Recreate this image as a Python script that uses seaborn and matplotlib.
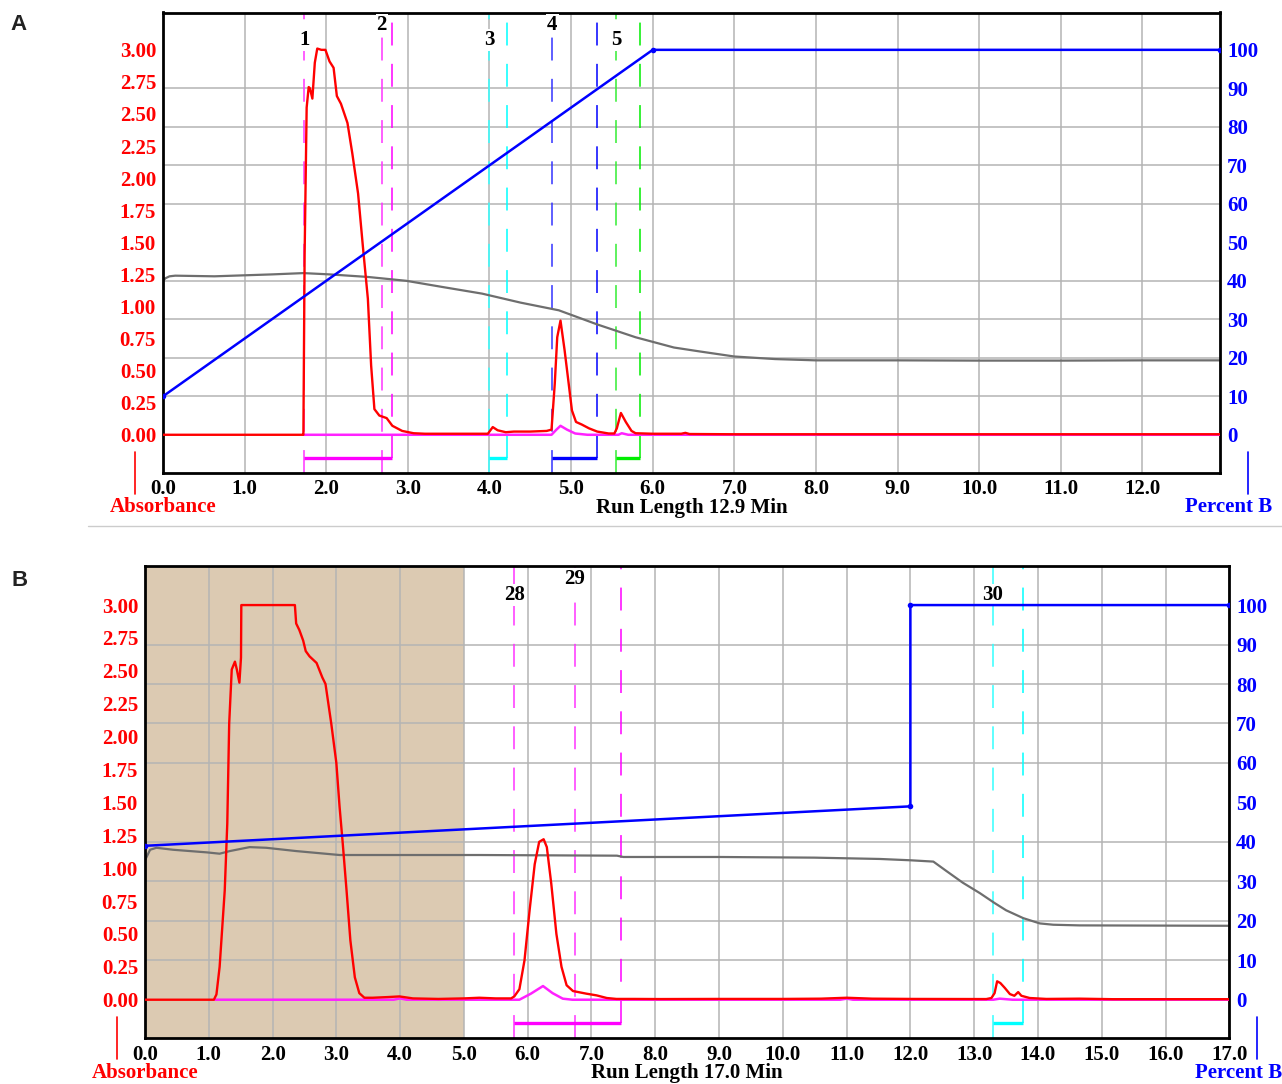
import numpy as np
import pandas as pd
import matplotlib
matplotlib.use("Agg")
import matplotlib.pyplot as plt
import seaborn as sns
from matplotlib.lines import Line2D
from matplotlib.ticker import FixedLocator

# ---------------- data: panel A ----------------
tA_red = [0, 1.70, 1.72, 1.735, 1.76, 1.785, 1.80, 1.83, 1.86, 1.89, 1.94, 1.99, 2.04, 2.09, 2.13,
          2.18, 2.26, 2.32, 2.39, 2.45, 2.51, 2.55, 2.59, 2.65, 2.74, 2.81, 2.93, 3.07, 3.21, 3.6,
          3.98, 4.04, 4.10, 4.20, 4.30, 4.50, 4.70, 4.76, 4.80, 4.83, 4.87, 4.92, 4.97, 5.01, 5.06,
          5.13, 5.22, 5.32, 5.46, 5.53, 5.56, 5.61, 5.67, 5.74, 5.79, 6.0, 6.35, 6.40, 6.45, 7.0, 12.95]
aA_red = [0, 0, 0, 1.40, 2.55, 2.71, 2.70, 2.62, 2.90, 3.01, 3.00, 3.00, 2.91, 2.86, 2.64,
          2.58, 2.43, 2.19, 1.88, 1.46, 1.06, 0.54, 0.20, 0.15, 0.13, 0.07, 0.03, 0.012, 0.008, 0.008,
          0.008, 0.06, 0.035, 0.02, 0.025, 0.025, 0.03, 0.04, 0.40, 0.76, 0.89, 0.66, 0.40, 0.19, 0.10,
          0.08, 0.05, 0.025, 0.01, 0.01, 0.05, 0.17, 0.10, 0.03, 0.012, 0.008, 0.008, 0.015, 0.006, 0.004, 0.004]

tA_mag = [1.72, 4.76, 4.82, 4.87, 4.95, 5.05, 5.20, 5.58, 5.62, 5.70, 12.95]
aA_mag = [0, 0, 0.04, 0.07, 0.04, 0.01, 0, 0, 0.012, 0, 0]

tA_gray = [0, 0.03, 0.08, 0.15, 0.63, 1.34, 1.72, 2.04, 2.51, 2.98, 3.44, 3.91, 4.38, 4.85, 5.32, 5.79,
           6.26, 6.57, 7.0, 7.5, 8.0, 9.0, 10.0, 11.0, 12.0, 12.95]
aA_gray = [1.20, 1.22, 1.235, 1.24, 1.235, 1.25, 1.26, 1.25, 1.23, 1.20, 1.15, 1.10, 1.03, 0.97, 0.86, 0.76,
           0.68, 0.65, 0.61, 0.59, 0.58, 0.58, 0.578, 0.578, 0.58, 0.58]

tA_pctB = [0, 6.0, 12.95]
pA_pctB = [10, 100, 100]

fracA_labels = ["1", "2", "3", "4", "5"]
fracA_pos = [1.73, 2.68, 4.00, 4.77, 5.55]
fracA_colors = ["#ff33ff", "#ff33ff", "#33ffff", "#3333ff", "#33ee33"]
winA_start = [1.73, 4.00, 4.77, 5.55]
winA_end = [2.81, 4.21, 5.32, 5.84]
winA_colors = ["#ff00ff", "#00ffff", "#0000ff", "#00ee00"]

# ---------------- data: panel B ----------------
tB_red = [0, 1.08, 1.12, 1.17, 1.25, 1.29, 1.32, 1.36, 1.41, 1.44, 1.48, 1.505, 1.51, 2.35, 2.37,
          2.42, 2.48, 2.52, 2.58, 2.69, 2.78, 2.83, 2.92, 3.00, 3.05, 3.10, 3.16, 3.22, 3.29, 3.36,
          3.44, 3.57, 3.80, 3.99, 4.20, 4.60, 5.00, 5.24, 5.50, 5.74, 5.79, 5.87, 5.95, 6.03, 6.11,
          6.18, 6.25, 6.30, 6.37, 6.45, 6.53, 6.61, 6.71, 6.92, 7.08, 7.24, 7.39, 7.66, 8.08, 9.0,
          10.0, 10.6, 11.0, 11.4, 12.0, 13.19, 13.27, 13.32, 13.36, 13.41, 13.48, 13.56, 13.63, 13.69,
          13.74, 13.87, 14.13, 14.65, 15.17, 17.0]
aB_red = [0, 0, 0.04, 0.25, 0.83, 1.34, 2.10, 2.51, 2.57, 2.51, 2.41, 2.60, 3.00, 3.00, 2.86,
          2.81, 2.73, 2.65, 2.61, 2.56, 2.45, 2.40, 2.10, 1.80, 1.47, 1.19, 0.83, 0.45, 0.17, 0.05,
          0.015, 0.015, 0.02, 0.025, 0.01, 0.006, 0.01, 0.015, 0.01, 0.01, 0.025, 0.08, 0.30, 0.68, 1.03,
          1.20, 1.22, 1.16, 0.88, 0.50, 0.25, 0.11, 0.066, 0.046, 0.033, 0.013, 0.006, 0.006, 0.005, 0.006,
          0.006, 0.008, 0.015, 0.008, 0.006, 0.005, 0.013, 0.05, 0.14, 0.127, 0.09, 0.043, 0.03, 0.058,
          0.03, 0.013, 0.006, 0.008, 0.004, 0.004]

tB_mag = [1.1, 3.9, 4.0, 4.1, 5.87, 6.05, 6.24, 6.39, 6.55, 6.7, 10.9, 11.0, 11.1, 13.3, 13.4, 13.6, 17.0]
aB_mag = [0, 0, 0.01, 0, 0, 0.046, 0.104, 0.05, 0.008, 0, 0, 0.008, 0, 0, 0.008, 0, 0]

tB_gray = [0, 0.08, 0.18, 0.44, 0.97, 1.17, 1.33, 1.64, 1.90, 2.37, 3.05, 3.57, 5.24, 7.4, 7.5,
           9.0, 10.5, 11.52, 12.0, 12.36, 12.56, 12.82, 13.09, 13.32, 13.5, 13.77, 14.03, 14.24, 14.65, 17.0]
aB_gray = [1.06, 1.14, 1.155, 1.14, 1.12, 1.11, 1.13, 1.16, 1.155, 1.13, 1.10, 1.10, 1.10, 1.095, 1.085,
           1.085, 1.08, 1.07, 1.06, 1.05, 0.98, 0.89, 0.81, 0.735, 0.68, 0.62, 0.58, 0.57, 0.565, 0.562]

tB_pctB = [0, 12.0, 12.0, 17.0]
pB_pctB = [39, 49, 100, 100]

fracB_labels = ["28", "29", "30"]
fracB_pos = [5.79, 6.74, 13.29]
fracB_colors = ["#ff33ff", "#ff33ff", "#33ffff"]
winB_start = [5.79, 13.29]
winB_end = [7.46, 13.76]
winB_colors = ["#ff00ff", "#00ffff"]

shadeB = (0.0, 5.0)

# ---------------- style ----------------
sns.set_theme(style="white")
plt.rcParams["font.family"] = ["Liberation Serif", "DejaVu Serif"]
plt.rcParams["axes.axisbelow"] = True

W, H = 1282, 1084
fig = plt.figure(figsize=(W / 100, H / 100), dpi=100)

FS = 15
DASH = (15, 12)


def px(x, y):
    return x / W, 1 - y / H


def panel(rect_px, xmax, ylim, red, mag, gray, pct, fr, win, title, shade=None):
    l, t, r, b = rect_px
    ax = fig.add_axes([l / W, 1 - b / H, (r - l) / W, (b - t) / H])
    ax.set_facecolor("white")
    ax.set_xlim(0, xmax)
    ax.set_ylim(*ylim)
    if shade is not None:
        ax.axvspan(shade[0], shade[1], color="#dccab2", zorder=0.2, lw=0)

    # grid: vertical every minute, horizontal every 10 % B
    ax.set_xticks(np.arange(0, int(xmax) + 1))
    ax.set_xticklabels([f"{v:.1f}" for v in np.arange(0, int(xmax) + 1)],
                       fontsize=FS, fontweight="bold", color="black")
    ax.set_yticks(np.arange(0, 3.01, 0.25))
    ax.set_yticklabels([f"{v:.2f}" for v in np.arange(0, 3.01, 0.25)],
                       fontsize=FS, fontweight="bold", color="red")
    ax.yaxis.set_minor_locator(FixedLocator(np.arange(0, 101, 10) * 0.03))
    ax.grid(which="major", axis="x", color="#b4b4b4", lw=1.1)
    ax.grid(which="minor", axis="y", color="#b4b4b4", lw=1.1)
    ax.grid(which="major", axis="y", visible=False)
    ax.tick_params(which="both", length=0, pad=5)
    for s in ax.spines.values():
        s.set_visible(True)
        s.set_color("black")
        s.set_linewidth(2.0)

    # fraction markers
    labels, pos, cols = fr
    for i, (lab, x, c) in enumerate(zip(labels, pos, cols)):
        ax.plot([x, x], [ylim[0], ylim[1]], color=c, lw=1.1, dashes=DASH, zorder=1.5)
        ax.text(x, 3.08 if i % 2 == 0 else 3.195, lab, ha="center", va="center",
                fontsize=FS, fontweight="bold", color="black", zorder=4,
                bbox=dict(boxstyle="square,pad=0.05", fc="white", ec="none"))
    ws, we, wc = win
    for s0, e0, c in zip(ws, we, wc):
        ax.plot([e0, e0], [-0.18, ylim[1]], color=c, lw=1.1, dashes=DASH, zorder=1.5)
        ax.plot([s0, e0], [-0.18, -0.18], color=c, lw=2.4, solid_capstyle="butt", zorder=2)

    # traces
    sns.lineplot(x=gray[0], y=gray[1], ax=ax, color="#6e6e6e", lw=1.6, estimator=None,
                 sort=False, zorder=2.4, legend=False)
    sns.lineplot(x=mag[0], y=mag[1], ax=ax, color="#ff22ff", lw=1.8, estimator=None,
                 sort=False, zorder=2.6, legend=False)
    sns.lineplot(x=red[0], y=red[1], ax=ax, color="#ff0000", lw=1.7, estimator=None,
                 sort=False, zorder=3, legend=False)
    ax.set_xlabel("")
    ax.set_ylabel("")

    ax2 = ax.twinx()
    ax2.set_ylim(ylim[0] * 100 / 3, ylim[1] * 100 / 3)
    ax2.patch.set_visible(False)
    for s in ax2.spines.values():
        s.set_visible(False)
    sns.lineplot(x=pct[0], y=pct[1], ax=ax2, color="#0000ff", lw=1.8, estimator=None,
                 sort=False, marker="o", markersize=4, markeredgewidth=0, legend=False)
    ax2.set_yticks(np.arange(0, 101, 10))
    ax2.set_yticklabels([str(v) for v in range(0, 101, 10)], fontsize=FS,
                        fontweight="bold", color="#0000ff")
    ax2.tick_params(length=0, pad=5)
    ax2.grid(False)
    ax2.set_ylabel("")
    ax2.set_xlim(0, xmax)

    # bottom labels
    ly = b + 35
    fig.text(*px(l, ly), "Absorbance", ha="center", va="center", fontsize=FS,
             fontweight="bold", color="red")
    fig.text(*px((l + r) / 2, ly), title, ha="center", va="center", fontsize=FS,
             fontweight="bold", color="black")
    fig.text(*px(r + 9, ly), "Percent B", ha="center", va="center", fontsize=FS,
             fontweight="bold", color="#0000ff")
    x0, y0 = px(l - 28, b - 21)
    x1, y1 = px(l - 28, b + 21)
    fig.add_artist(Line2D([x0, x1], [y0, y1], color="red", lw=1.2))
    x0, y0 = px(r + 28, b - 21)
    x1, y1 = px(r + 28, b + 21)
    fig.add_artist(Line2D([x0, x1], [y0, y1], color="#0000ff", lw=1.2))
    return ax


panel((163, 12.5, 1220, 472.5), 12.95, (-0.294, 3.291),
      (tA_red, aA_red), (tA_mag, aA_mag), (tA_gray, aA_gray), (tA_pctB, pA_pctB),
      (fracA_labels, fracA_pos, fracA_colors), (winA_start, winA_end, winA_colors),
      "Run Length 12.9 Min")

panel((145, 566, 1229.3, 1038), 17.0, (-0.291, 3.297),
      (tB_red, aB_red), (tB_mag, aB_mag), (tB_gray, aB_gray), (tB_pctB, pB_pctB),
      (fracB_labels, fracB_pos, fracB_colors), (winB_start, winB_end, winB_colors),
      "Run Length 17.0 Min", shade=shadeB)

# panel letters and separator
fig.text(*px(18.5, 25), "A", ha="center", va="center", fontsize=16, fontweight="bold",
         family="Liberation Sans", color="#222222")
fig.text(*px(20, 580), "B", ha="center", va="center", fontsize=16, fontweight="bold",
         family="Liberation Sans", color="#222222")
xa, ya = px(88, 526)
xb, yb = px(1282, 526)
fig.add_artist(Line2D([xa, xb], [ya, yb], color="#cccccc", lw=1.0))

fig.savefig("out.png", dpi=100)
